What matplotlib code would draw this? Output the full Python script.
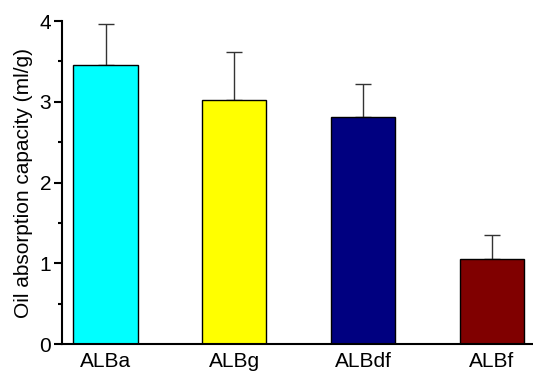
import matplotlib
matplotlib.use('Agg')
import matplotlib.pyplot as plt
import numpy as np
from matplotlib.ticker import MultipleLocator

# Данные
samples = ['ALBa', 'ALBg', 'ALBdf', 'ALBf']
oil_capacity = [3.45, 3.02, 2.81, 1.05]
oil_err = [0.51, 0.60, 0.41, 0.30]
bar_colors = ['#00FFFF', '#FFFF00', '#000080', '#800000']

plt.rcParams['font.family'] = ['Liberation Sans', 'DejaVu Sans']

fig = plt.figure(figsize=(5.33, 3.74), dpi=100)
ax = fig.add_axes([0.1158, 0.0802, 0.8842, 0.8636])

x = np.arange(len(samples))
ax.bar(x, oil_capacity, width=0.5, color=bar_colors, edgecolor='black', linewidth=1.0,
       zorder=2)
ax.errorbar(x, oil_capacity, yerr=[np.zeros(len(oil_err)), oil_err], fmt='none',
            ecolor='#333333', elinewidth=1.0, capsize=5.8, capthick=1.0, zorder=1)

ax.set_xlim(-0.34, 3.32)
ax.set_ylim(0, 4)
ax.set_xticks(x)
ax.set_xticklabels(samples, fontsize=15)
ax.set_yticks([0, 1, 2, 3, 4])
ax.yaxis.set_minor_locator(MultipleLocator(0.5))
ax.tick_params(axis='y', which='major', length=6, width=1.5, labelsize=15, pad=1.5)
ax.tick_params(axis='y', which='minor', length=3, width=1.5)
ax.tick_params(axis='x', length=0, pad=6)
ax.set_ylabel('Oil absorption capacity (ml/g)', fontsize=15, labelpad=5)

for side in ['top', 'right']:
    ax.spines[side].set_visible(False)
for side in ['left', 'bottom']:
    ax.spines[side].set_linewidth(1.5)

fig.savefig('out.png', dpi=100)
